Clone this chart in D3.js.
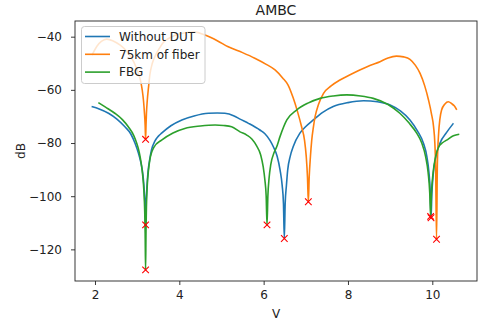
<!DOCTYPE html>
<html><head><meta charset="utf-8">
<script src="https://cdn.jsdelivr.net/npm/d3@7/dist/d3.min.js"></script>
<style>html,body{margin:0;padding:0;background:#fff;}svg{display:block;font-family:"DejaVu Sans",sans-serif;}</style>
</head><body>
<svg id="chart" width="482" height="322"></svg>
<script>
const title = "AMBC";
const xLabel = "V";
const yLabel = "dB";
const seriesNames = ["Without DUT", "75km of fiber", "FBG"];
const xTicks = [2, 4, 6, 8, 10];
const yTicks = [-40, -60, -80, -100, -120];

const blueX = [1.92,2.10,2.32,2.52,2.71,2.85,2.95,3.03,3.08,3.12,3.15,3.17,3.19,3.20,3.21,3.23,3.26,3.30,3.34,3.42,3.50,3.58,3.80,4.06,4.35,4.69,4.90,5.08,5.30,5.44,5.64,5.91,6.03,6.15,6.23,6.32,6.39,6.44,6.47,6.49,6.51,6.54,6.57,6.63,6.70,6.86,7.00,7.18,7.40,7.65,8.00,8.37,8.70,9.00,9.25,9.47,9.65,9.79,9.87,9.92,9.95,9.97,9.99,10.02,10.08,10.18,10.34,10.50];
const blueY = [-66.3,-67.2,-68.8,-71.0,-73.9,-76.6,-80.1,-83.8,-86.8,-90.0,-94.0,-98.5,-105,-111.0,-104,-97,-90.5,-86,-82.6,-79.3,-77.5,-76.3,-73.5,-71.3,-69.8,-68.8,-68.7,-68.8,-69.8,-71.0,-72.6,-75.1,-76.5,-79,-81.4,-85,-90.2,-96,-102.7,-115.9,-103,-96,-90.2,-85,-81.4,-76.3,-73.8,-71.3,-68.5,-66.3,-64.8,-64.1,-64.5,-65.7,-68.0,-71.3,-75.5,-80.1,-85,-91,-98,-108.1,-99,-92,-85.5,-80.1,-76,-72.6];

const orangeX = [1.93,2.05,2.15,2.28,2.42,2.60,2.78,2.92,3.02,3.08,3.12,3.15,3.17,3.19,3.20,3.21,3.22,3.24,3.27,3.30,3.36,3.45,3.53,3.62,3.80,4.00,4.20,4.37,4.61,4.90,5.16,5.50,5.79,6.05,6.27,6.45,6.58,6.70,6.80,6.90,6.97,7.01,7.04,7.06,7.08,7.11,7.14,7.18,7.22,7.30,7.42,7.60,7.81,8.05,8.28,8.52,8.76,8.95,9.15,9.32,9.47,9.60,9.71,9.82,9.91,9.98,10.03,10.06,10.08,10.10,10.12,10.15,10.18,10.22,10.30,10.38,10.46,10.52,10.58];
const orangeY = [-46.9,-43.5,-41.8,-40.9,-41.5,-43.2,-46.0,-49.5,-53.5,-56.5,-60,-64,-68,-73.5,-78.6,-73.5,-69,-64,-59,-54.5,-50,-46.5,-44.3,-42.2,-40.2,-39.0,-38.4,-38.3,-39.4,-41.5,-43.8,-46.0,-48.1,-50.3,-52.5,-55.5,-58.2,-63,-68,-73.9,-79,-85,-93,-102.1,-93,-85,-79,-74,-70.1,-65.5,-61.3,-58.5,-56.3,-54.3,-52.5,-50.8,-49.4,-48.0,-47.3,-47.6,-48.5,-50.8,-53.8,-58.5,-63.8,-69,-73.9,-80,-90,-116.2,-88,-76.3,-71,-67.6,-65.3,-64.5,-65.2,-66,-67.5];

const greenX = [2.08,2.25,2.47,2.65,2.79,2.92,2.99,3.05,3.09,3.13,3.16,3.18,3.19,3.20,3.21,3.22,3.24,3.27,3.30,3.40,3.58,3.85,4.13,4.50,4.85,5.05,5.24,5.44,5.60,5.72,5.83,5.93,5.99,6.03,6.06,6.08,6.10,6.13,6.17,6.25,6.31,6.39,6.55,6.78,7.05,7.34,7.65,7.97,8.30,8.60,8.95,9.23,9.45,9.63,9.75,9.84,9.90,9.94,9.96,9.98,10.02,10.08,10.15,10.25,10.34,10.50,10.64];
const greenY = [-64.8,-66.5,-68.8,-71.2,-73.9,-77.2,-80.1,-83.5,-87,-92,-98,-106,-114,-127.7,-113,-104,-96,-90,-86.4,-81.5,-78.9,-76.2,-74.5,-73.6,-73.2,-73.4,-73.9,-75.8,-77.0,-78.5,-81.0,-84.5,-89,-94,-100,-110.8,-100,-93,-88,-83.5,-81.4,-77.5,-71.3,-67.6,-65,-63.2,-62.3,-61.9,-62.3,-63.2,-65.5,-68.8,-72.5,-76.3,-80,-85,-91,-99,-107.6,-99,-91,-85,-81.5,-79.8,-78.9,-77.3,-76.7];

const markerX = [3.20,3.20,3.20,6.08,6.49,7.06,9.97,9.96,10.10];
const markerY = [-78.6,-110.8,-127.7,-110.8,-115.9,-102.1,-108.1,-107.6,-116.2];

const colors = ["#1f77b4", "#ff7f0e", "#2ca02c"];
const series = [
  {name: seriesNames[0], xs: blueX, ys: blueY, color: colors[0]},
  {name: seriesNames[1], xs: orangeX, ys: orangeY, color: colors[1]},
  {name: seriesNames[2], xs: greenX, ys: greenY, color: colors[2]}
];

const svg = d3.select("#chart");
const L = 75, R = 477, T = 21, B = 281;
const x = d3.scaleLinear().domain([1.526, 11.06]).range([L, R]);
const y = d3.scaleLinear().domain([-131.9, -34.1]).range([B, T]);

const defs = svg.append("defs");
defs.append("clipPath").attr("id", "clip").append("rect")
  .attr("x", L).attr("y", T).attr("width", R - L).attr("height", B - T);

const fmt = d => d < 0 ? "\u2212" + Math.abs(d) : String(d);

// axes
const xAxis = svg.append("g").attr("transform", `translate(0,${B})`)
  .call(d3.axisBottom(x).tickValues(xTicks).tickSize(4).tickPadding(5).tickFormat(fmt));
const yAxis = svg.append("g").attr("transform", `translate(${L},0)`)
  .call(d3.axisLeft(y).tickValues(yTicks).tickSize(4).tickPadding(9).tickFormat(fmt));
[xAxis, yAxis].forEach(a => {
  a.select(".domain").remove();
  a.selectAll("line").attr("stroke", "#222").attr("stroke-width", 0.9);
  a.selectAll("text").attr("fill", "#222").style("font-size", "12px")
   .style("font-family", "'DejaVu Sans', sans-serif");
});

const g = svg.append("g").attr("clip-path", "url(#clip)");
const line = d3.line().x(d => x(d[0])).y(d => y(d[1])).curve(d3.curveMonotoneX);
series.forEach(s => {
  const pts = s.xs.map((v, i) => [v, s.ys[i]]);
  g.append("path").datum(pts).attr("d", line)
    .attr("fill", "none").attr("stroke", s.color).attr("stroke-width", 1.6)
    .attr("stroke-linejoin", "round");
});

// markers
const ms = 3.3;
markerX.forEach((mx, i) => {
  const cx = x(mx), cy = y(markerY[i]);
  g.append("path")
    .attr("d", `M${cx - ms},${cy - ms}L${cx + ms},${cy + ms}M${cx - ms},${cy + ms}L${cx + ms},${cy - ms}`)
    .attr("stroke", "#ff0000").attr("stroke-width", 1.1).attr("fill", "none");
});

// frame
svg.append("rect").attr("x", L).attr("y", T).attr("width", R - L).attr("height", B - T)
  .attr("fill", "none").attr("stroke", "#222").attr("stroke-width", 0.9);

// title & labels
svg.append("text").attr("x", (L + R) / 2).attr("y", 15).attr("text-anchor", "middle")
  .style("font-size", "14px").attr("fill", "#222").text(title);
svg.append("text").attr("x", (L + R) / 2).attr("y", 318).attr("text-anchor", "middle")
  .style("font-size", "12px").attr("fill", "#222").text(xLabel);
svg.append("text").attr("transform", `translate(25,${(T + B) / 2}) rotate(-90)`)
  .attr("text-anchor", "middle").style("font-size", "12px").attr("fill", "#222").text(yLabel);

// legend
const lg = svg.append("g");
lg.append("rect").attr("x", 81.5).attr("y", 26.5).attr("width", 123.5).attr("height", 57)
  .attr("rx", 3).attr("fill", "#fff").attr("fill-opacity", 0.8)
  .attr("stroke", "#cccccc").attr("stroke-width", 1);
series.forEach((s, i) => {
  const ly = 36.5 + i * 17.8;
  lg.append("line").attr("x1", 85).attr("x2", 110).attr("y1", ly).attr("y2", ly)
    .attr("stroke", s.color).attr("stroke-width", 1.6);
  lg.append("text").attr("x", 119).attr("y", ly + 4.3).style("font-size", "12px")
    .attr("fill", "#222").text(s.name);
});
</script>
</body></html>
